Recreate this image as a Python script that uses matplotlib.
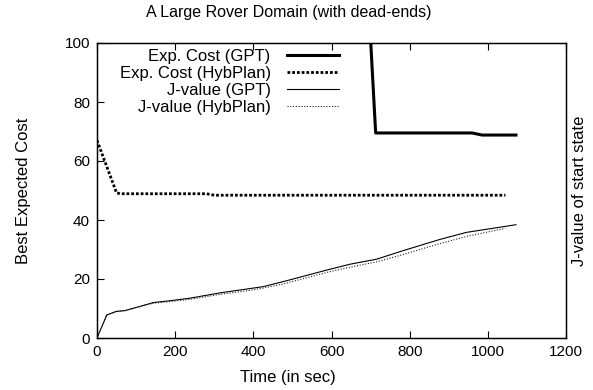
import matplotlib
matplotlib.use("Agg")
import matplotlib.pyplot as plt

plt.rcParams["font.family"] = ["Liberation Sans", "DejaVu Sans"]
plt.rcParams["font.size"] = 11

# Exp. Cost (GPT)
gpt_cost_t = [698, 713, 960, 985, 1072]
gpt_cost_v = [106, 69.5, 69.5, 68.8, 68.8]

# Exp. Cost (HybPlan)
hyb_cost_t = [0, 50, 60, 280, 300, 1045]
hyb_cost_v = [67, 49.2, 48.9, 48.9, 48.4, 48.4]

# J-value (GPT)
gpt_j_t = [0, 25, 49, 72, 144, 191, 238, 315, 383, 425, 476, 587, 647, 715, 783, 877, 945, 1072]
gpt_j_v = [0, 7.8, 9.0, 9.3, 12.0, 12.7, 13.5, 15.3, 16.6, 17.4, 19.1, 23.0, 25.0, 26.7, 29.6, 33.4, 35.8, 38.4]

# J-value (HybPlan)
hyb_j_t = [0, 25, 49, 72, 144, 191, 238, 315, 383, 425, 476, 587, 647, 715, 783, 877, 945, 1045]
hyb_j_v = [0, 7.8, 9.0, 9.3, 11.8, 12.4, 13.1, 14.8, 16.0, 16.9, 18.3, 22.2, 24.0, 25.8, 28.3, 32.0, 34.4, 37.2]

fig = plt.figure(figsize=(5.93, 3.9), dpi=100)
ax = fig.add_axes([97 / 593, 1 - 338 / 390, (566 - 97) / 593, (338 - 43) / 390])

ax.plot(gpt_cost_t, gpt_cost_v, color="black", lw=2.2, label="Exp. Cost (GPT)")
ax.plot(hyb_cost_t, hyb_cost_v, color="black", lw=2.0, ls=(0, (1.0, 0.7)),
        label="Exp. Cost (HybPlan)")
ax.plot(gpt_j_t, gpt_j_v, color="black", lw=0.8, label="J-value (GPT)")
ax.plot(hyb_j_t, hyb_j_v, color="#222222", lw=0.8, ls=(0, (1, 1.5)),
        label="J-value (HybPlan)")

ax.set_xlim(0, 1200)
ax.set_ylim(0, 100)
ax.set_xticks(range(0, 1201, 200))
ax.set_yticks(range(0, 101, 20))
ax.tick_params(direction="in", length=5, width=0.8, top=True, right=True,
               labelsize=11, pad=5)
for s in ax.spines.values():
    s.set_linewidth(1.0)

# gnuplot centres title and xlabel on the canvas, not the plot box
ax.set_title("A Large Rover Domain (with dead-ends)", fontsize=11.5, pad=19, x=0.408)
ax.set_xlabel("Time (in sec)", fontsize=12)
ax.xaxis.set_label_coords(0.408, -0.11)
ax.set_ylabel("Best Expected Cost", fontsize=12, labelpad=24)
ax2 = ax.twinx()
ax2.set_yticks([])
ax2.set_ylabel("J-value of start state", fontsize=12, labelpad=4)

leg = ax.legend(loc="upper right", markerfirst=False, frameon=False, fontsize=12,
                handlelength=3.1, handletextpad=1.0, labelspacing=0.12,
                borderaxespad=0.0, borderpad=0.0,
                bbox_to_anchor=(242 / 469, 1 - 6 / 295))

fig.savefig("out.png", dpi=100)
